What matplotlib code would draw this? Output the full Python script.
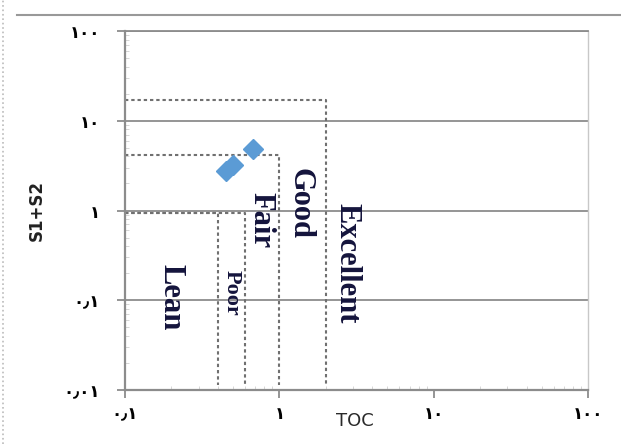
import numpy as np
import matplotlib.pyplot as plt
from matplotlib.lines import Line2D

# sample points (TOC, S1+S2)
toc = [0.45, 0.50, 0.68]
s1s2 = [2.75, 3.25, 4.9]

# class boxes: right edge (TOC) and top edge (S1+S2)
box_x = [0.40, 0.60, 1.0, 2.0]
box_y = [0.93, 0.93, 4.2, 17.0]

# class labels and where they sit
cls_names = ["Lean", "Poor", "Fair", "Good", "Excellent"]
cls_x = [0.20, 0.49, 0.76, 1.37, 2.75]
cls_y = [0.108, 0.12, 0.78, 1.2, 0.26]
cls_size = [22, 16, 22, 22, 22]

xticks = [0.1, 1, 10, 100]
xlabels = ["\u0660\u066b\u0661", "\u0661", "\u0661\u0660", "\u0661\u0660\u0660"]
yticks = [0.01, 0.1, 1, 10, 100]
ylabels = ["\u0660\u066b\u0660\u0661", "\u0660\u066b\u0661", "\u0661", "\u0661\u0660", "\u0661\u0660\u0660"]

fig = plt.figure(figsize=(6.21, 4.44), dpi=100)
ax = fig.add_axes([0.2013, 0.1216, 0.7456, 0.8086])
ax.set_xscale("log")
ax.set_yscale("log")
ax.set_xlim(0.1, 100)
ax.set_ylim(0.01, 100)

gray = "#8c8c8c"
ax.grid(True, which="major", axis="y", color=gray, lw=1.3)
for s in ["left", "bottom"]:
    ax.spines[s].set_color(gray)
    ax.spines[s].set_linewidth(1.6)
ax.spines["top"].set_color(gray)
ax.spines["top"].set_linewidth(1.3)
ax.spines["right"].set_color("#c8c8c8")
ax.spines["right"].set_linewidth(1.0)

ax.set_xticks(xticks)
ax.set_xticklabels(xlabels, fontweight="bold", fontsize=12, family="DejaVu Sans")
ax.set_yticks(yticks)
ax.set_yticklabels(ylabels, fontweight="bold", fontsize=12, family="DejaVu Sans")
ax.tick_params(which="major", length=6, width=1.3, color=gray, pad=5)
ax.tick_params(axis="y", pad=12)
ax.tick_params(which="minor", length=3, width=0.6, color="#d0d0d0", direction="in")
ax.xaxis.set_minor_formatter(plt.NullFormatter())
ax.yaxis.set_minor_formatter(plt.NullFormatter())

# dashed class boxes
for bx, by in zip(box_x, box_y):
    ax.plot([0.1, bx, bx], [by, by, 0.0115], ls=(0, (1.6, 1.4)), color="#707070", lw=1.5)

ax.plot(toc, s1s2, ls="none", marker="D", ms=10, color="#5b9bd5", mec="#5b9bd5")

for name, x, y, fs in zip(cls_names, cls_x, cls_y, cls_size):
    ax.text(x, y, name, rotation=-90, ha="center", va="center", fontsize=fs,
            fontweight="bold", family="Liberation Serif", color="#14143c")

ax.text(0.497, -0.085, "TOC", transform=ax.transAxes, ha="center", va="center",
        fontsize=13, color="#2a2a2a")
ax.text(-0.19, 0.5, "S1+S2", transform=ax.transAxes, ha="center", va="center",
        rotation=90, fontsize=12, fontweight="bold", color="#222222")

# frame bits around the chart
fig.add_artist(Line2D([0.027, 1.0], [0.966, 0.966], color="#999999", lw=1.5))
fig.add_artist(Line2D([0.005, 0.005], [0.0, 1.0], color="#bbbbbb", lw=1.2, ls=":"))

fig.savefig("out.png", dpi=100)
